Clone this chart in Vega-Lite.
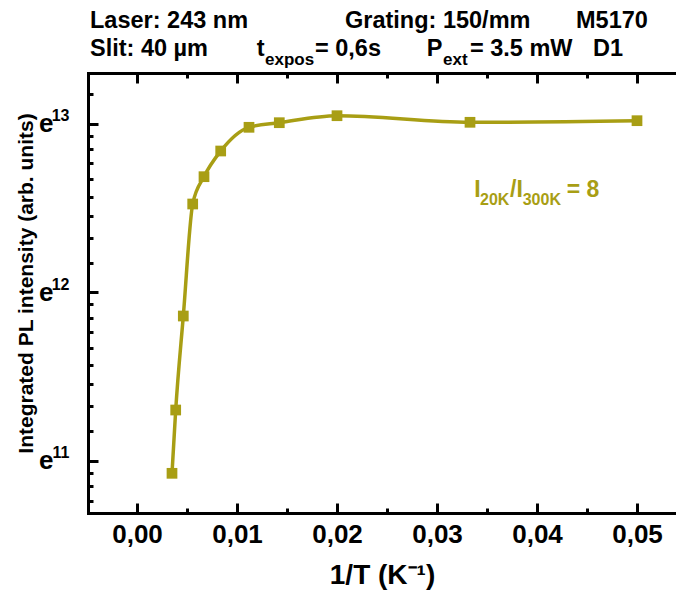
{
  "$schema": "https://vega.github.io/schema/vega-lite/v6.json",
  "width": 588,
  "height": 440,
  "autosize": {"type": "none"},
  "padding": {"left": 88, "top": 73, "right": 0, "bottom": 88},
  "background": "white",
  "config": {
    "view": {"stroke": null},
    "font": "Liberation Sans",
    "axis": {
      "grid": false,
      "domainColor": "#000000",
      "domainWidth": 3,
      "domainCap": "square",
      "tickColor": "#000000",
      "tickWidth": 3,
      "labelColor": "#000000",
      "labelFont": "Liberation Sans",
      "labelFontWeight": "bold",
      "titleFont": "Liberation Sans",
      "titleFontWeight": "bold",
      "titleColor": "#000000",
      "labelFlush": false,
      "labelOverlap": false
    },
    "text": {"font": "Liberation Sans", "fontWeight": "bold"}
  },
  "datasets": {
    "pl": [
      {"inv_T": 0.0035, "intensity": 55570},
      {"inv_T": 0.00387, "intensity": 80895},
      {"inv_T": 0.00463, "intensity": 141278},
      {"inv_T": 0.00557, "intensity": 274555},
      {"inv_T": 0.0067, "intensity": 322838},
      {"inv_T": 0.00837, "intensity": 375970},
      {"inv_T": 0.0112, "intensity": 432742},
      {"inv_T": 0.01423, "intensity": 444718},
      {"inv_T": 0.02, "intensity": 463539},
      {"inv_T": 0.0333, "intensity": 445785},
      {"inv_T": 0.05, "intensity": 450044}
    ]
  },
  "resolve": {"axis": {"x": "independent", "y": "independent"}},
  "layer": [
    {
      "data": {"name": "pl"},
      "mark": {"type": "point", "opacity": 0},
      "encoding": {
        "x": {"field": "inv_T", "type": "quantitative",
          "scale": {"domain": [-0.0049, 0.0539], "nice": false, "zero": false},
          "axis": {"orient": "top", "values": [0, 0.005, 0.01, 0.015, 0.02, 0.025, 0.03, 0.035, 0.04, 0.045, 0.05],
            "labels": false, "domain": true, "ticks": true, "title": null,
            "tickSize": {"condition": {"test": "abs(datum.value*100 - round(datum.value*100)) < 0.0001", "value": -10}, "value": -5}}},
        "y": {"field": "intensity", "type": "quantitative",
          "scale": {"type": "log", "base": 2.718281828459045, "domain": [43915, 597196], "nice": false},
          "axis": {"orient": "left", "values": [59874.14171519782, 162754.79141900392, 442413.3920089205],
            "labelExpr": "format(round(log(datum.value)), 'd')", "ticks": false, "domain": false,
            "labelFontSize": 16, "labelPadding": 19, "labelOffset": -8, "labelBaseline": "middle", "title": null}}
      }
    },
    {
      "data": {"name": "pl"},
      "mark": {"type": "line", "color": "#A89E14", "strokeWidth": 3.5, "interpolate": "monotone"},
      "encoding": {
        "x": {"field": "inv_T", "type": "quantitative",
          "axis": {"orient": "bottom", "values": [0, 0.01, 0.02, 0.03, 0.04, 0.05],
            "labelExpr": "replace(format(datum.value, '.2f'), '.', ',')", "ticks": false, "domain": true,
            "labelFontSize": 26, "labelPadding": 8, "title": "1/T (K⁻¹)", "titleFontSize": 28, "titlePadding": 14}},
        "y": {"field": "intensity", "type": "quantitative",
          "axis": {"orient": "left", "values": [59874.14171519782, 162754.79141900392, 442413.3920089205],
            "labelExpr": "'e'", "ticks": false, "domain": true, "labelFontSize": 26, "labelPadding": 35,
            "labelBaseline": "middle", "title": "Integrated PL intensity (arb. units)", "titleFontSize": 21,
            "titlePadding": 2, "titleY": 210}}
      }
    },
    {
      "data": {"name": "pl"},
      "mark": {"type": "point", "shape": "square", "filled": true, "size": 115, "opacity": 1, "color": "#A89E14"},
      "encoding": {
        "x": {"field": "inv_T", "type": "quantitative",
          "axis": {"orient": "bottom", "values": [0, 0.005, 0.01, 0.015, 0.02, 0.025, 0.03, 0.035, 0.04, 0.045, 0.05],
            "labels": false, "domain": false, "ticks": true, "title": null,
            "tickSize": {"condition": {"test": "abs(datum.value*100 - round(datum.value*100)) < 0.0001", "value": -10}, "value": -5}}},
        "y": {"field": "intensity", "type": "quantitative",
          "axis": {"orient": "left",
            "values": [47258.25, 51463.55, 55668.84, 59874.14171519782, 71305.32, 82736.51, 94167.69, 105598.87, 117030.06, 128461.24, 139892.42, 151323.61, 162754.79141900392, 193827.97, 224901.15, 255974.33, 287047.50, 318120.68, 349193.86, 380267.04, 411340.21, 442413.3920089205, 526879.05],
            "labels": false, "domain": false, "ticks": true, "title": null,
            "tickSize": {"condition": {"test": "abs(log(datum.value) - round(log(datum.value))) < 0.0001", "value": -10}, "value": -5}}}
      }
    },
    {"data": {"values": [{}]}, "mark": {"type": "text", "text": "Laser: 243 nm", "fontSize": 23.5, "align": "left", "baseline": "alphabetic", "color": "#000000"},
      "encoding": {"x": {"datum": -0.0047, "type": "quantitative", "axis": null}, "y": {"datum": 779911, "type": "quantitative", "axis": null}}},
    {"data": {"values": [{}]}, "mark": {"type": "text", "text": "Grating: 150/mm", "fontSize": 23.5, "align": "left", "baseline": "alphabetic", "color": "#000000"},
      "encoding": {"x": {"datum": 0.0208, "type": "quantitative", "axis": null}, "y": {"datum": 779911, "type": "quantitative", "axis": null}}},
    {"data": {"values": [{}]}, "mark": {"type": "text", "text": "M5170", "fontSize": 23.5, "align": "left", "baseline": "alphabetic", "color": "#000000"},
      "encoding": {"x": {"datum": 0.0439, "type": "quantitative", "axis": null}, "y": {"datum": 779911, "type": "quantitative", "axis": null}}},
    {"data": {"values": [{}]}, "mark": {"type": "text", "text": "Slit: 40 µm", "fontSize": 23.5, "align": "left", "baseline": "alphabetic", "color": "#000000"},
      "encoding": {"x": {"datum": -0.0047, "type": "quantitative", "axis": null}, "y": {"datum": 660563, "type": "quantitative", "axis": null}}},
    {"data": {"values": [{}]}, "mark": {"type": "text", "text": "t", "fontSize": 23.5, "align": "left", "baseline": "alphabetic", "color": "#000000"},
      "encoding": {"x": {"datum": 0.01197, "type": "quantitative", "axis": null}, "y": {"datum": 660563, "type": "quantitative", "axis": null}}},
    {"data": {"values": [{}]}, "mark": {"type": "text", "text": "expos", "fontSize": 17, "align": "left", "baseline": "alphabetic", "color": "#000000"},
      "encoding": {"x": {"datum": 0.0128, "type": "quantitative", "axis": null}, "y": {"datum": 626229, "type": "quantitative", "axis": null}}},
    {"data": {"values": [{}]}, "mark": {"type": "text", "text": "= 0,6s", "fontSize": 23.5, "align": "left", "baseline": "alphabetic", "color": "#000000"},
      "encoding": {"x": {"datum": 0.0178, "type": "quantitative", "axis": null}, "y": {"datum": 660563, "type": "quantitative", "axis": null}}},
    {"data": {"values": [{}]}, "mark": {"type": "text", "text": "P", "fontSize": 23.5, "align": "left", "baseline": "alphabetic", "color": "#000000"},
      "encoding": {"x": {"datum": 0.02897, "type": "quantitative", "axis": null}, "y": {"datum": 660563, "type": "quantitative", "axis": null}}},
    {"data": {"values": [{}]}, "mark": {"type": "text", "text": "ext", "fontSize": 17, "align": "left", "baseline": "alphabetic", "color": "#000000"},
      "encoding": {"x": {"datum": 0.0306, "type": "quantitative", "axis": null}, "y": {"datum": 626229, "type": "quantitative", "axis": null}}},
    {"data": {"values": [{}]}, "mark": {"type": "text", "text": "= 3.5 mW", "fontSize": 23.5, "align": "left", "baseline": "alphabetic", "color": "#000000"},
      "encoding": {"x": {"datum": 0.0333, "type": "quantitative", "axis": null}, "y": {"datum": 660563, "type": "quantitative", "axis": null}}},
    {"data": {"values": [{}]}, "mark": {"type": "text", "text": "D1", "fontSize": 23.5, "align": "left", "baseline": "alphabetic", "color": "#000000"},
      "encoding": {"x": {"datum": 0.0456, "type": "quantitative", "axis": null}, "y": {"datum": 660563, "type": "quantitative", "axis": null}}},
    {"data": {"values": [{}]}, "mark": {"type": "text", "text": "I", "fontSize": 23, "align": "left", "baseline": "alphabetic", "color": "#A89E14"},
      "encoding": {"x": {"datum": 0.03373, "type": "quantitative", "axis": null}, "y": {"datum": 285687, "type": "quantitative", "axis": null}}},
    {"data": {"values": [{}]}, "mark": {"type": "text", "text": "20K", "fontSize": 16, "align": "left", "baseline": "alphabetic", "color": "#A89E14"},
      "encoding": {"x": {"datum": 0.0343, "type": "quantitative", "axis": null}, "y": {"datum": 272932, "type": "quantitative", "axis": null}}},
    {"data": {"values": [{}]}, "mark": {"type": "text", "text": "/I", "fontSize": 23, "align": "left", "baseline": "alphabetic", "color": "#A89E14"},
      "encoding": {"x": {"datum": 0.0373, "type": "quantitative", "axis": null}, "y": {"datum": 285687, "type": "quantitative", "axis": null}}},
    {"data": {"values": [{}]}, "mark": {"type": "text", "text": "300K", "fontSize": 16, "align": "left", "baseline": "alphabetic", "color": "#A89E14"},
      "encoding": {"x": {"datum": 0.03857, "type": "quantitative", "axis": null}, "y": {"datum": 272932, "type": "quantitative", "axis": null}}},
    {"data": {"values": [{}]}, "mark": {"type": "text", "text": "= 8", "fontSize": 23, "align": "left", "baseline": "alphabetic", "color": "#A89E14"},
      "encoding": {"x": {"datum": 0.04297, "type": "quantitative", "axis": null}, "y": {"datum": 285687, "type": "quantitative", "axis": null}}}
  ]
}
